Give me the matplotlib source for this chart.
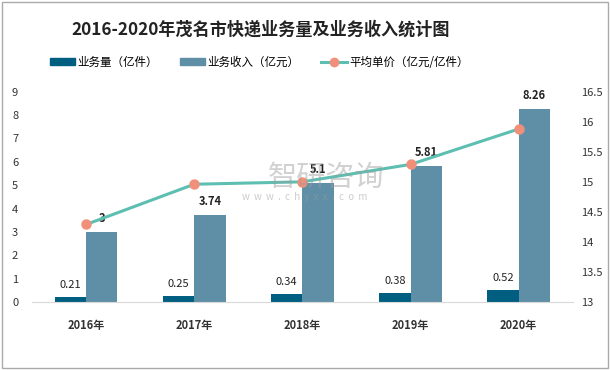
import numpy as np
import matplotlib
matplotlib.use("Agg")
import matplotlib.pyplot as plt
from matplotlib.lines import Line2D
from matplotlib.patches import Patch, Rectangle

plt.rcParams['font.family'] = ['Noto Sans CJK SC', 'DejaVu Sans']

# 数据
years = ['2016年', '2017年', '2018年', '2019年', '2020年']
volume = [0.21, 0.25, 0.34, 0.38, 0.52]      # 业务量（亿件）
revenue = [3, 3.74, 5.1, 5.81, 8.26]         # 业务收入（亿元）
unit_price = [14.29, 14.96, 15.0, 15.29, 15.88]  # 平均单价（亿元/亿件）

c_dark = '#005f81'
c_light = '#5f8fa7'
c_line = '#5dbfb1'
c_marker = '#f0907a'

fig = plt.figure(figsize=(6.1, 3.7), dpi=100)
ax = fig.add_axes([0.0525, 0.184, 0.8865, 0.568])
ax2 = ax.twinx()

x = np.arange(len(years))
w = 0.29
ax.bar(x - w / 2, volume, w, color=c_dark, zorder=2)
ax.bar(x + w / 2, revenue, w, color=c_light, zorder=2)

for xi, v in zip(x, volume):
    ax.annotate(f'{v:g}', (xi - w / 2, v), xytext=(0, 5), textcoords='offset points',
                ha='center', va='bottom', fontsize=8, color='#222222', fontweight='medium')
for xi, v in zip(x, revenue):
    ax.annotate(f'{v:g}', (xi + w / 2, v), xytext=(0, 5), textcoords='offset points',
                ha='center', va='bottom', fontsize=8, color='#222222', fontweight='bold')

ax2.plot(x, unit_price, color=c_line, lw=2.2, marker='o', ms=6.5,
         mfc=c_marker, mec=c_marker, zorder=3)

ax.set_xlim(-0.5, 4.5)
ax.set_ylim(0, 9)
ax.set_yticks(range(0, 10))
ax2.set_ylim(13, 16.5)
ax2.set_yticks([13, 13.5, 14, 14.5, 15, 15.5, 16, 16.5])
ax2.set_yticklabels(['13', '13.5', '14', '14.5', '15', '15.5', '16', '16.5'])

ax.set_xticks(x)
ax.set_xticklabels(years, fontsize=8, fontweight='bold', color='#222222')
for a in (ax, ax2):
    for s in a.spines.values():
        s.set_visible(False)
    a.tick_params(length=0, labelsize=8, colors='#333333')
ax.spines['bottom'].set_visible(True)
ax.spines['bottom'].set_color('#d9d9d9')
ax.tick_params(axis='x', pad=12)
ax.tick_params(axis='y', pad=10)
ax2.tick_params(axis='y', pad=6)

fig.text(0.428, 0.92, '2016-2020年茂名市快递业务量及业务收入统计图', ha='center', va='center',
         fontsize=12.3, fontweight='bold', color='#222222')

handles = [Patch(color=c_dark), Patch(color=c_light),
           Line2D([], [], color=c_line, lw=2.2, marker='o', ms=6, mfc=c_marker, mec=c_marker)]
labels = ['业务量（亿件）', '业务收入（亿元）', '平均单价（亿元/亿件）']
fig.legend(handles, labels, loc='center', bbox_to_anchor=(0.425, 0.832), ncol=3, frameon=False,
           fontsize=8.3, handlelength=2.2, handleheight=0.6, handletextpad=0.2, columnspacing=1.9)

# 水印
fig.text(0.535, 0.52, '智研咨询', ha='center', va='center', fontsize=21, color='#9a9a9a', alpha=0.45)
fig.text(0.50, 0.467, 'w  w  w  .  c  h  y  x  x  .  c  o  m', ha='center', va='center', fontsize=7,
         color='#9a9a9a', alpha=0.5)

fig.patches.append(Rectangle((0.004, 0.005), 0.992, 0.99, transform=fig.transFigure,
                             fill=False, edgecolor='#aaaaaa', lw=1))

fig.savefig('out.png', dpi=100)
